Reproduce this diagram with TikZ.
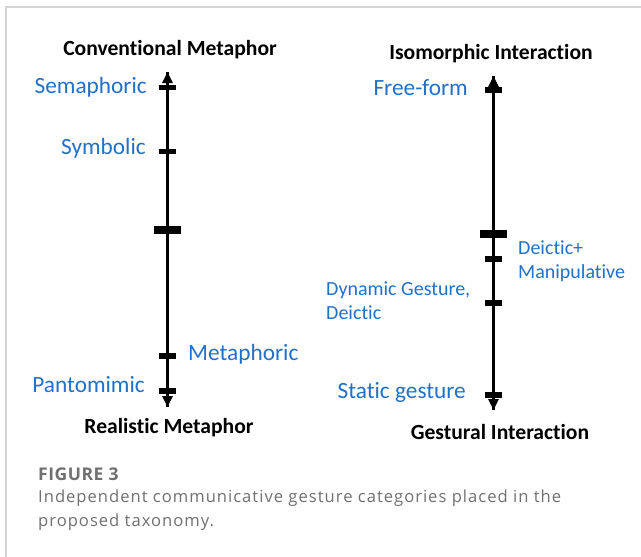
\documentclass[tikz,border=0pt]{standalone}
\usepackage{fontspec}
\setmainfont[Ligatures=NoCommon]{Carlito}
\newfontfamily\capfont[LetterSpace=6]{Open Sans}
\newfontfamily\capheadfont[LetterSpace=3]{Open Sans}
\usetikzlibrary{arrows.meta}
\definecolor{lblue}{RGB}{35,112,200}
\definecolor{capgray}{RGB}{112,112,112}
\definecolor{framegray}{RGB}{212,212,212}
\tikzset{
  axis/.style={line width=3pt,-{Triangle[width=10pt,length=11pt]}},
  tick/.style={fill=black,draw=none,inner sep=0,minimum width=17pt,minimum height=5.5pt,rectangle},
  bigtick/.style={fill=black,draw=none,inner sep=0,minimum width=27pt,minimum height=8pt,rectangle},
  title/.style={font=\fontsize{21.6}{26}\selectfont\bfseries,inner sep=0},
  cat/.style={font=\fontsize{23.3}{28}\selectfont,text=lblue,inner sep=0,align=left},
  cattwo/.style={font=\fontsize{20}{24}\selectfont,text=lblue,inner sep=0,align=left},
  caphead/.style={font=\capheadfont\fontsize{17.5}{20}\selectfont\bfseries,text=capgray,inner sep=0,anchor=west},
  captext/.style={font=\capfont\fontsize{16.6}{24}\selectfont,text=capgray,inner sep=0,anchor=west,align=left}
}
\begin{document}
\begin{tikzpicture}[x={(1pt,0)},y={(0,-1pt)}]
\useasboundingbox (0,0) rectangle (641,557);
\fill[white] (0,0) rectangle (641,557);
\draw[framegray,line width=1.2pt] (641,7) -- (6,7) -- (6,557);

% left axis
\coordinate (ltop) at (167.5,72);
\coordinate (lbot) at (167.5,407);
\node[title] (cm) at (170,50) {Conventional Metaphor};
\node[title] (rm) at (169,428) {Realistic Metaphor};
\draw[axis] (lbot) -- (ltop);
\draw[axis] (ltop) -- (lbot);
\node[tick] (t1) at (167.5,87.5) {};
\node[tick] (t2) at (167.5,151.5) {};
\node[bigtick] (t3) at (167.5,230) {};
\node[tick] (t4) at (167.5,356) {};
\node[tick] (t5) at (167.5,391) {};
\node[cat,anchor=east] (sem) at (147,87) {Semaphoric};
\node[cat,anchor=east] (sym) at (146,148) {Symbolic};
\node[cat,anchor=west] (met) at (188,354) {Metaphoric};
\node[cat,anchor=east] (pan) at (145,385) {Pantomimic};

% right axis
\coordinate (rtop) at (493.5,76);
\coordinate (rbot) at (493.5,410);
\node[title] (ii) at (491,54) {Isomorphic Interaction};
\node[title] (gi) at (500,432) {Gestural Interaction};
\draw[axis] (rbot) -- (rtop);
\draw[axis] (rtop) -- (rbot);
\node[tick] (r1) at (493.5,90) {};
\node[bigtick] (r2) at (493.5,234) {};
\node[tick] (r3) at (493.5,259) {};
\node[tick] (r4) at (493.5,303) {};
\node[tick] (r5) at (493.5,395) {};
\node[cat,anchor=east] (ff) at (468,88) {Free-form};
\node[cattwo,anchor=west] (dm) at (518,261.5) {Deictic+\\Manipulative};
\node[cattwo,anchor=west] (dg) at (326,301) {Dynamic Gesture,\\Deictic};
\node[cat,anchor=east] (sg) at (466,392) {Static gesture};

% caption
\node[caphead] (fig) at (38,474) {FIGURE 3};
\node[captext] (cap) at (38,510) {Independent communicative gesture categories placed in the\\proposed taxonomy.};
\end{tikzpicture}
\end{document}
